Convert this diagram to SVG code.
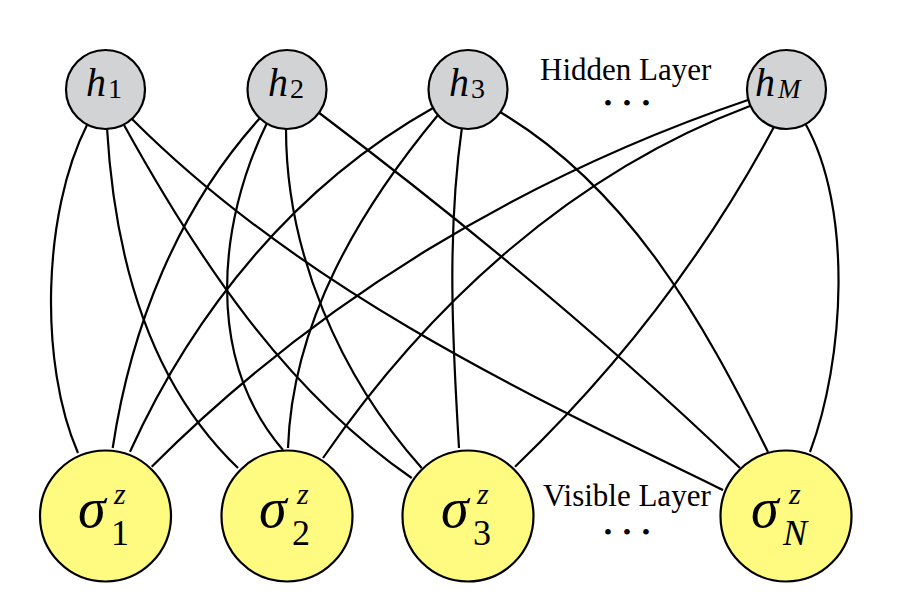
<svg xmlns="http://www.w3.org/2000/svg" width="907" height="608" viewBox="0 0 907 608">
<style>
.e{fill:none;stroke:#000;stroke-width:2.2}
.h{fill:#d2d3d5;stroke:#000;stroke-width:2.2}
.v{fill:#fffa80;stroke:#000;stroke-width:2.2}
.m{font-family:"Liberation Serif",serif;font-style:italic;fill:#000}
.r{font-family:"Liberation Serif",serif;font-style:normal;fill:#000}
</style>
<rect width="907" height="608" fill="#fff"/>
<g id="connectors">
<path class="e" d="M87,125 C42.7,212.4 38.8,363.1 78,453"/>
<path class="e" d="M107,128 C114.1,249.9 146.2,380.2 238,468"/>
<path class="e" d="M124,125 C197.7,258.3 284.2,389.6 411.7,478"/>
<path class="e" d="M132,119 C297.7,285.1 514.4,389.1 723,490"/>
<path class="e" d="M260,118 C177.6,209.1 130.8,327.6 112.7,448"/>
<path class="e" d="M267,123 C218,222.8 204.3,358.4 283,450"/>
<path class="e" d="M286,128 C285.8,252.7 339.9,376.3 421.7,468"/>
<path class="e" d="M318,112 C464.7,222.9 607.3,340.8 740,468"/>
<path class="e" d="M433,108 C296.6,184.6 193.8,310.6 130,451.7"/>
<path class="e" d="M438,115 C359.9,208.9 292.4,321.7 288,448"/>
<path class="e" d="M462,127 C446.8,234 452.5,341 459,448"/>
<path class="e" d="M500,112 C629.1,188.4 703.4,321.9 768,452"/>
<path class="e" d="M748,100 C524.6,175.9 319,299.3 151.7,466.7"/>
<path class="e" d="M750,106 C573,172.3 429,304.4 323,458"/>
<path class="e" d="M775,125 C706.9,252.3 618.8,367.1 515,466.7"/>
<path class="e" d="M805,123 C853.3,208.3 844.4,360.3 810,452"/>
</g>
<g id="h1"><circle class="h" cx="105.5" cy="89.5" r="39.5"/><text class="m" font-size="40"><tspan x="86" y="96">h</tspan><tspan class="r" x="108" y="98" font-size="28">1</tspan></text></g>
<g id="h2"><circle class="h" cx="287" cy="89.5" r="39.5"/><text class="m" font-size="40"><tspan x="268" y="96">h</tspan><tspan class="r" x="290" y="98" font-size="28">2</tspan></text></g>
<g id="h3"><circle class="h" cx="468" cy="89.5" r="39.5"/><text class="m" font-size="40"><tspan x="449" y="96">h</tspan><tspan class="r" x="471" y="98" font-size="28">3</tspan></text></g>
<g id="hM"><circle class="h" cx="786.5" cy="89.5" r="39.5"/><text class="m" font-size="40"><tspan x="755" y="96">h</tspan><tspan x="778" y="98" font-size="27">M</tspan></text></g>
<g id="s1"><circle class="v" cx="105.5" cy="516" r="65.5"/><text class="m" font-size="56"><tspan x="78" y="527">σ</tspan><tspan x="114" y="504" font-size="30">z</tspan><tspan class="r" x="111" y="545" font-size="36">1</tspan></text></g>
<g id="s2"><circle class="v" cx="287" cy="516" r="65.5"/><text class="m" font-size="56"><tspan x="259" y="527">σ</tspan><tspan x="297" y="504" font-size="30">z</tspan><tspan class="r" x="292" y="545" font-size="36">2</tspan></text></g>
<g id="s3"><circle class="v" cx="468" cy="516" r="65.5"/><text class="m" font-size="56"><tspan x="441" y="527">σ</tspan><tspan x="477" y="504" font-size="30">z</tspan><tspan class="r" x="473" y="545" font-size="36">3</tspan></text></g>
<g id="sN"><circle class="v" cx="786" cy="516" r="65.5"/><text class="m" font-size="56"><tspan x="751" y="527">σ</tspan><tspan x="789" y="504" font-size="30">z</tspan><tspan x="783" y="545" font-size="36">N</tspan></text></g>
<g id="labels">
<text class="r" x="540" y="80" font-size="31">Hidden Layer</text>
<text class="r" x="603.8" y="111" font-size="24" letter-spacing="10.6">•••</text>
<text class="r" x="543" y="506" font-size="31">Visible Layer</text>
<text class="r" x="603.8" y="540" font-size="24" letter-spacing="10.6">•••</text>
</g>
</svg>
